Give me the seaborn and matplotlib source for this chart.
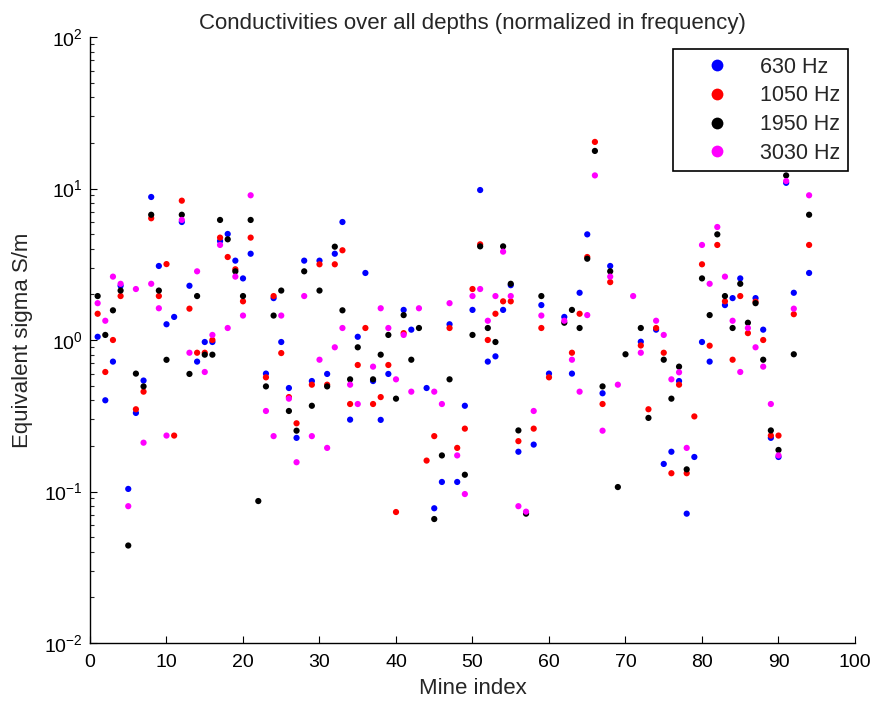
import numpy as np
import pandas as pd
import matplotlib
matplotlib.use("Agg")
import matplotlib.pyplot as plt
import seaborn as sns

nan = np.nan
mine_index = list(range(1, 95))

sigma_630 = [1.05, 0.40, 0.72, 2.28, 0.104, 0.33, 0.54, 8.79, 3.08, 1.27,
             1.42, 6.01, 2.28, 0.72, 0.97, 0.97, 4.5, 5.01, 3.34, 2.55,
             3.71, nan, 0.60, 1.89, 0.97, 0.482, 0.226, 3.34, 0.536, 3.34,
             0.597, 3.71, 6.01, 0.298, 1.05, 2.77, 0.536, 0.297, 0.597, nan,
             1.58, 1.17, nan, 0.482, 0.0775, 0.1156, 1.27, 0.1156, 0.368, 1.58,
             9.77, 0.72, 0.78, 1.58, 2.30, 0.183, nan, 0.204, 1.70, 0.60,
             nan, 1.42, 0.60, 2.05, 4.98, nan, 0.445, 3.08, nan, nan,
             nan, 0.974, nan, 1.17, 0.152, 0.183, 0.536, 0.0714, 0.169, 0.97,
             0.72, nan, 1.70, 1.89, 2.55, nan, 1.89, 1.17, 0.226, 0.169,
             10.9, 2.05, nan, 2.77]

sigma_1050 = [1.49, 0.615, 1.0, 1.95, nan, 0.349, 0.456, 6.36, 1.95, 3.17,
              0.234, 8.31, 1.61, 0.824, 0.824, 1.0, 4.74, 3.53, 2.93, 1.80,
              4.74, nan, 0.567, 1.95, 0.82, 0.42, 0.282, nan, 0.507, 3.16,
              0.507, 3.16, 3.91, 0.378, 0.684, 1.2, 0.378, 0.42, 0.684, 0.0732,
              1.11, nan, nan, 0.16, 0.232, nan, 1.2, 0.194, 0.26, 2.17,
              4.28, 1.0, 1.49, 1.80, 1.80, 0.215, nan, 0.26, 1.2, 0.567,
              nan, nan, 0.824, 1.49, 3.53, 20.3, 0.378, 2.41, nan, nan,
              nan, 0.92, 0.349, 1.2, 0.824, 0.132, 0.507, 0.132, 0.313, 3.16,
              0.917, 4.24, 1.80, 0.741, 1.95, 1.11, 1.79, 1.0, 0.234, 0.234,
              nan, 1.48, nan, 4.24]

sigma_1950 = [1.95, 1.08, 1.57, 2.12, 0.044, 0.60, 0.494, 6.71, 2.12, 0.74,
              nan, 6.71, 0.597, 1.95, 0.80, 0.80, 6.2, 4.62, 2.84, 1.95,
              6.2, 0.0865, 0.494, 1.45, 2.12, 0.34, 0.252, 2.84, 0.368, 2.12,
              0.494, 4.13, 1.57, 0.55, 0.895, nan, 0.55, 0.80, 1.08, 0.41,
              1.46, 0.741, 1.2, nan, 0.0658, 0.173, 0.55, nan, 0.129, 1.08,
              4.15, 1.2, 0.97, 4.15, 2.35, 0.253, 0.0714, nan, 1.95, nan,
              nan, 1.30, 1.58, 1.2, 3.44, 17.7, 0.494, 2.84, 0.107, 0.805,
              nan, 1.2, 0.306, nan, 0.741, 0.41, 0.667, 0.140, nan, 2.55,
              1.46, 4.98, 1.95, 1.2, 2.35, 1.30, 1.75, 0.741, 0.253, 0.188,
              12.2, 0.805, nan, 6.71]

sigma_3030 = [1.75, 1.34, 2.62, 2.35, 0.080, 2.17, 0.21, 2.35, 1.62, 0.234,
              nan, 6.2, 0.824, 2.84, 0.615, 1.08, 4.24, 1.2, 2.62, 1.45,
              9.02, nan, 0.34, 0.232, 1.45, 0.41, 0.156, 1.95, 0.232, 0.741,
              0.194, 0.895, 1.2, 0.507, 0.378, nan, 0.667, 1.62, 1.2, 0.55,
              1.08, 0.456, 1.62, nan, 0.456, 0.378, 1.75, 0.173, 0.0962, 1.95,
              2.17, 1.34, 1.95, 3.83, 1.95, 0.080, 0.0736, 0.34, 1.45, nan,
              nan, 1.34, 0.741, 0.456, 1.46, 12.2, 0.252, 2.62, 0.507, nan,
              1.95, 0.824, nan, 1.34, 1.08, 0.55, 0.612, 0.194, nan, 4.24,
              2.35, 5.57, 2.62, 1.34, 0.615, 1.2, 0.895, 0.667, 0.378, 0.173,
              11.2, 1.61, nan, 9.02]

series_labels = ["630 Hz", "1050 Hz", "1950 Hz", "3030 Hz"]
series_colors = ["#0000ff", "#ff0000", "#000000", "#ff00ff"]

frames = []
for lab, vals in zip(series_labels, [sigma_630, sigma_1050, sigma_1950, sigma_3030]):
    frames.append(pd.DataFrame({"Mine index": mine_index, "sigma": vals, "freq": lab}))
df = pd.concat(frames, ignore_index=True).dropna()

sns.set_style("ticks")
plt.rcParams["font.family"] = ["Liberation Sans", "DejaVu Sans"]
plt.rcParams["mathtext.fontset"] = "custom"
plt.rcParams["mathtext.rm"] = "Liberation Sans"
plt.rcParams["xtick.direction"] = "in"
plt.rcParams["ytick.direction"] = "in"

fig = plt.figure(figsize=(8.79, 7.04), dpi=100)
ax = fig.add_axes([90 / 879, 61 / 704, 765 / 879, 606 / 704])

sns.scatterplot(data=df, x="Mine index", y="sigma", hue="freq",
                hue_order=series_labels,
                palette=dict(zip(series_labels, series_colors)),
                s=20, linewidth=0, ax=ax, legend="full")

ax.set_yscale("log")
ax.set_xlim(0, 100)
ax.set_ylim(1e-2, 1e2)
ax.set_xticks(range(0, 101, 10))
ax.set_yticks([1e-2, 1e-1, 1e0, 1e1, 1e2])
ax.tick_params(axis="both", which="major", labelsize=14, length=5, width=0.8, colors="black")
ax.tick_params(axis="x", which="major", pad=8)
ax.tick_params(axis="y", which="major", pad=5)
ax.tick_params(axis="y", which="minor", length=3, width=0.8)
for s in ["top", "right"]:
    ax.spines[s].set_visible(False)
for s in ["left", "bottom"]:
    ax.spines[s].set_linewidth(1.0)
    ax.spines[s].set_color("black")

ax.set_xlabel("Mine index", fontsize=16, labelpad=5)
ax.set_ylabel("Equivalent sigma S/m", fontsize=16, labelpad=8)
ax.set_title("Conductivities over all depths (normalized in frequency)", fontsize=16, pad=6)

sns.move_legend(ax, "upper right", bbox_to_anchor=(0.991, 0.980), title=None,
                frameon=True, fancybox=False, fontsize=15.5, markerscale=1.9,
                handletextpad=0.3, labelspacing=0.36, borderpad=0.35, borderaxespad=0,
                handlelength=3.4)
leg = ax.get_legend()
leg.get_frame().set_edgecolor("black")
leg.get_frame().set_linewidth(1.2)
leg.get_frame().set_alpha(1)

fig.savefig("out.png", dpi=100)
